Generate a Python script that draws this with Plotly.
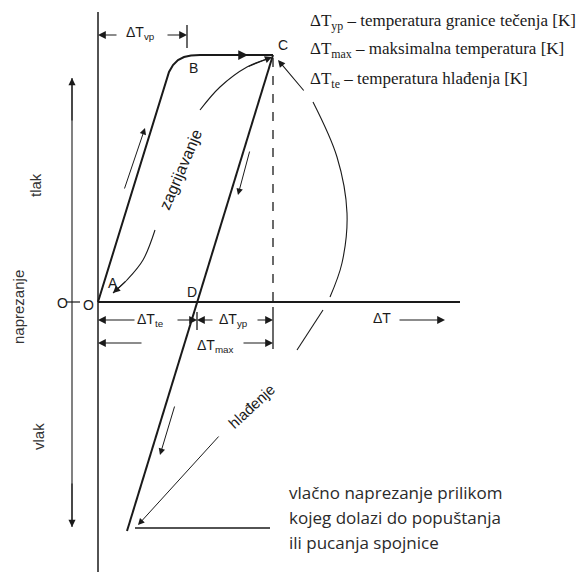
import plotly.graph_objects as go

INK = "#1a1a1a"

# diagram units: x = temperature difference, y = stress, O at the origin
dT_te = 99
dT_max = 175
dT_vp = 89
sig_top = 247
sig_bottom = -226

# heating path O - A - B - C
heat_x = [0, 68, 71, 75, 80, 86, 93, 102, dT_max]
heat_y = [0, 220, 230, 237, 242, 245, 246.5, sig_top, sig_top]

# cooling path C - D - bottom
cool_x = [dT_max, dT_te, 29]
cool_y = [sig_top, 0, -229]

# curved "zagrijavanje" arrow (two pieces around the text)
zag1_x = [15, 29, 45, 57]
zag1_y = [9, 22, 42, 72]
zag2_x = [102, 122, 149, 172]
zag2_y = [192, 215, 235, 244]

# big arc on the right
arc1_x = [215, 239, 249, 244, 232]
arc1_y = [200, 145, 89, 39, 5]
arc2_x = [225, 199]
arc2_y = [-8, -48]

legend_lines = [
    "ΔT<sub>yp</sub> – temperatura granice tečenja [K]",
    "ΔT<sub>max</sub> – maksimalna temperatura [K]",
    "ΔT<sub>te</sub> – temperatura hlađenja [K]",
]
note_lines = [
    "vlačno naprezanje prilikom",
    "kojeg dolazi do popuštanja",
    "ili pucanja spojnice",
]

fig = go.Figure()


def line(x, y, width=1.8, dash=None, shape="linear"):
    fig.add_trace(go.Scatter(x=x, y=y, mode="lines", hoverinfo="skip",
                             line=dict(color=INK, width=width, dash=dash, shape=shape)))


def arrow(head, tail, width=1.2, size=1.3):
    fig.add_annotation(x=head[0], y=head[1], ax=tail[0], ay=tail[1],
                       xref="x", yref="y", axref="x", ayref="y", text="",
                       showarrow=True, arrowhead=2, arrowsize=size,
                       arrowwidth=width, arrowcolor=INK)


def label(x, y, text, size=14, angle=0, family="Liberation Sans", anchor="center", color=INK):
    fig.add_annotation(x=x, y=y, text=text, showarrow=False, textangle=angle,
                       xanchor=anchor, font=dict(family=family, size=size, color=color))


# axes
line([0, 0], [290, -270], width=1.5)
line([0, 362], [0, 0], width=1.8)
line([-32, -18], [0, 0], width=1.2)

# stress direction arrow on the left
line([-26, -26], [224, -225], width=1.1)
arrow((-26, 224), (-26, 180), width=1.1)
arrow((-26, -225), (-26, -180), width=1.1)

# paths
line(heat_x, heat_y, width=2)
line(cool_x, cool_y, width=2)
line([37, 172], [sig_bottom, sig_bottom], width=1.4)
arrow((150, sig_top), (128, sig_top), width=1.5)

# dashed line from C
line([dT_max, dT_max], [244, 0], width=1.3, dash="dash")
line([dT_max, dT_max], [-5, -47], width=1.3)
line([dT_te, dT_te], [-10, -28], width=1.3)

# dT_vp dimension
line([dT_vp, dT_vp], [277, 254], width=1.3)
arrow((0, 267), (20, 267))
arrow((dT_vp, 267), (68, 267))

# dimension lines under the axis
arrow((0, -18), (38, -18))
arrow((dT_te, -18), (78, -18))
arrow((dT_te, -18), (116, -18))
arrow((dT_max, -18), (158, -18))
arrow((0, -41), (45, -41))
arrow((dT_max, -41), (144, -41))
arrow((347, -18), (300, -18))

# curved arrows
line(zag1_x, zag1_y, width=1.1, shape="spline")
line(zag2_x, zag2_y, width=1.1, shape="spline")
arrow((15, 9), (29, 22), width=1.1)
arrow((174, 245), (149, 235), width=1.1)
line(arc1_x, arc1_y, width=1.1, shape="spline")
line(arc2_x, arc2_y, width=1.1)
arrow((180, 242), (207, 210), width=1.1)

# small direction arrows
arrow((47, 174), (26, 112), width=1.0)
arrow((140, 107), (152, 152), width=1.0)
arrow((62, -153), (77, -103), width=1.0)
arrow((40, -223), (122, -133), width=1.0)

# point labels
label(185, 257, "C", 14)
label(95, 234, "B", 14)
label(15, 19, "A", 14)
label(94, 10, "D", 14)
label(-10, -3, "O", 14)
label(-36, -1, "O", 14)

# dimension labels
label(42, 269, "ΔT<sub>vp</sub>", 14)
label(52, -18, "ΔT<sub>te</sub>", 14)
label(135, -18, "ΔT<sub>yp</sub>", 14)
label(117, -44, "ΔT<sub>max</sub>", 14)
label(284, -16, "ΔT", 14)

# rotated texts
label(82, 132, "zagrijavanje", 16, angle=-67)
label(153, -104, "hlađenje", 15, angle=-43)
label(-63, 117, "tlak", 15, angle=-90, color="#333333")
label(-80, -5, "naprezanje", 15, angle=-90, color="#333333")
label(-60, -135, "vlak", 15, angle=-90, color="#333333")

# legend (top right)
for i, txt in enumerate(legend_lines):
    label(210, [280, 252, 222][i], txt, 17, family="Liberation Serif", anchor="left")

# note (bottom right)
for i, txt in enumerate(note_lines):
    label(189, [-190, -215, -240][i], txt, 17, family="Open Sans", anchor="left", color="#2a2a2a")

# page body adds an 8px margin, so the figure is 8px smaller and starts 8px in
fig.update_layout(
    width=577, height=564,
    margin=dict(l=0, r=0, t=0, b=0),
    paper_bgcolor="white", plot_bgcolor="white",
    showlegend=False,
    xaxis=dict(range=[-90, 487], visible=False, fixedrange=True),
    yaxis=dict(range=[-270, 294], visible=False, fixedrange=True),
)

fig.write_html("out.html")
